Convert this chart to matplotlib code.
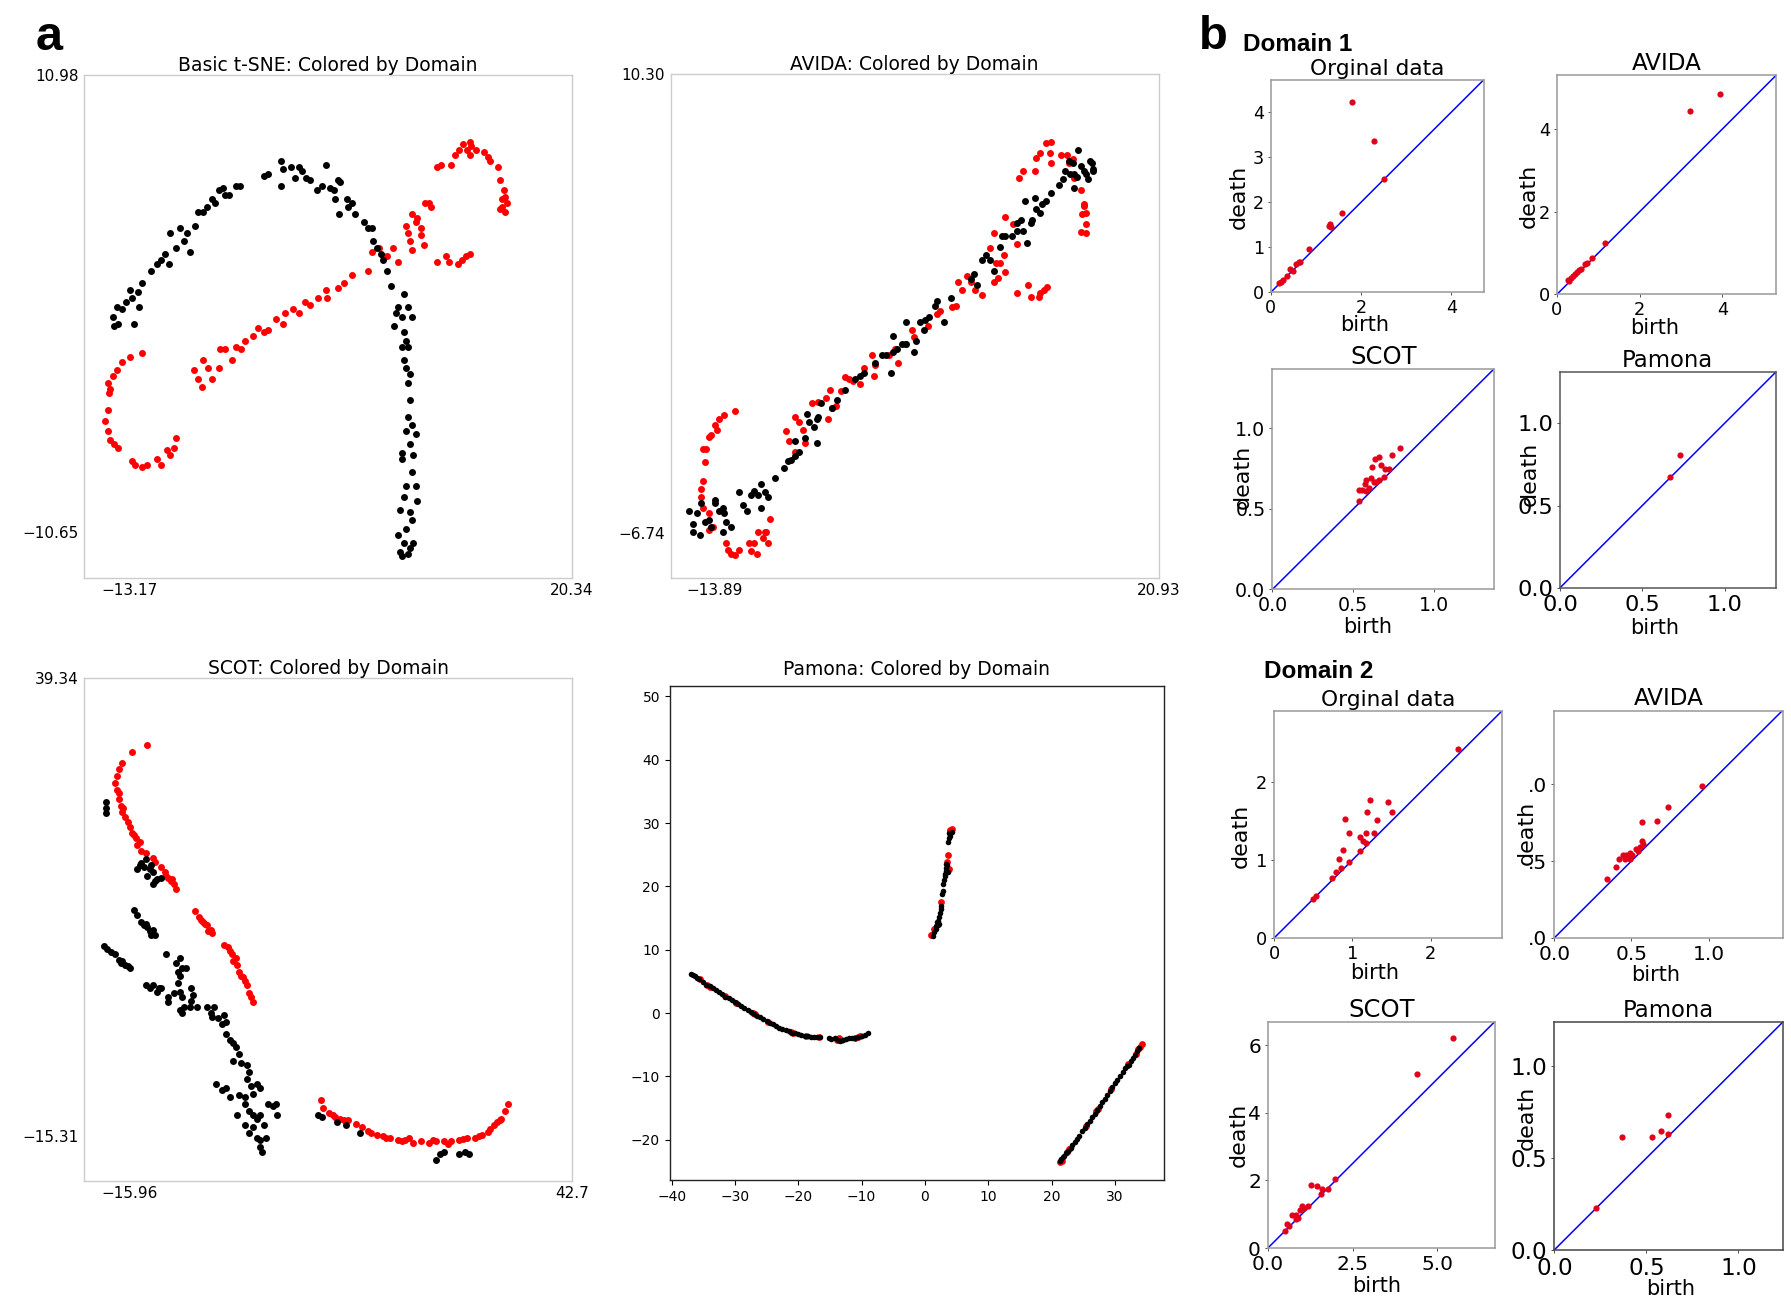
import matplotlib
import numpy as np

matplotlib.use("Agg")
import matplotlib.pyplot as plt


FIG_W, FIG_H = 1791, 1310
MINUS = "\u2212"

# ---- panel a: embeddings, (x, y) per point ----
TSNE_BLACK = np.array([
    (-14.4, -0.5), (-14.3, -0.9), (-14.0, -0.8), (-14.1, 0.0), (-13.7, -0.1), (-13.4, 0.2),
    (-13.0, 0.4), (-12.8, -0.8), (-13.1, 0.8), (-12.5, 0.7), (-12.2, 1.1), (-12.4, 0.0),
    (-11.5, 1.7), (-11.1, 2.0), (-10.8, 2.2), (-10.5, 2.5), (-10.2, 2.0), (-10.1, 3.5),
    (-9.6, 2.8), (-9.3, 3.7), (-9.0, 3.1), (-8.8, 3.5), (-8.6, 2.6), (-8.2, 3.8),
    (-8.0, 4.5), (-7.6, 4.5), (-7.3, 4.7), (-6.9, 5.1), (-6.7, 4.9), (-6.4, 5.5),
    (-6.1, 5.6), (-5.9, 5.3), (-5.6, 5.3), (-5.1, 5.7), (-4.8, 5.7),
    (-3.0, 6.2), (-2.7, 6.3), (-1.7, 6.9), (-1.5, 6.5), (-1.7, 5.7), (-0.9, 6.6),
    (-0.6, 6.1), (-0.3, 6.6), (-0.1, 6.4), (0.2, 6.1), (0.5, 6.0), (1.0, 5.5),
    (1.4, 5.7), (1.7, 6.7), (2.0, 5.6), (2.3, 5.5), (2.6, 6.0), (2.4, 5.1),
    (2.8, 5.9), (2.7, 4.4), (3.3, 5.1), (3.4, 4.7), (3.7, 4.9), (3.9, 4.4),
    (4.6, 4.0), (4.9, 3.7), (5.2, 3.7), (5.3, 3.1), (5.6, 2.8), (5.9, 2.5),
    (6.0, 2.2), (6.3, 1.7), (6.6, 1.0),
    (7.6, 0.6), (7.2, 0.0), (7.0, -0.3), (7.5, -0.5), (7.9, 0.0), (8.2, -0.5),
    (6.9, -0.9), (7.6, -1.2), (7.8, -1.6), (7.5, -1.9), (7.9, -1.9), (7.6, -2.5),
    (7.8, -2.9), (8.1, -3.2), (7.9, -3.6), (8.1, -4.4), (7.9, -5.2), (8.2, -5.6),
    (7.8, -5.9), (8.5, -6.0), (8.1, -6.5), (7.5, -6.9), (8.3, -7.0), (7.5, -7.2),
    (8.2, -7.8), (7.8, -8.5), (8.5, -8.5), (7.6, -9.0), (8.6, -9.2), (7.3, -9.6),
    (8.1, -9.7), (8.2, -10.1), (7.8, -10.5), (7.2, -10.8), (7.6, -11.2), (8.3, -11.2),
    (7.3, -11.6), (7.9, -11.7), (7.5, -11.8), (8.1, -11.4),
])
TSNE_RED = np.array([
    (-12.2, -2.2), (-13.1, -2.4), (-13.7, -2.6), (-14.1, -3.0), (-14.4, -3.3), (-14.8, -3.6),
    (-14.6, -3.9), (-14.7, -4.1), (-14.8, -4.9), (-15.0, -5.4), (-14.8, -5.9), (-14.6, -6.3),
    (-14.3, -6.5), (-14.0, -6.7), (-13.0, -7.3), (-12.7, -7.5), (-12.2, -7.6), (-11.8, -7.5),
    (-11.1, -7.2), (-10.8, -7.5), (-10.3, -6.8), (-10.1, -7.0), (-9.6, -6.2), (-9.8, -6.7),
    (-8.3, -3.0), (-8.0, -3.4), (-7.7, -3.8), (-7.6, -2.5), (-7.2, -2.9), (-6.9, -3.4),
    (-6.4, -2.9), (-6.3, -2.0), (-5.9, -2.0), (-5.4, -2.5), (-5.1, -1.9), (-4.7, -2.0),
    (-4.4, -1.6), (-3.8, -1.4), (-3.4, -1.0), (-3.0, -1.2), (-2.7, -1.1), (-2.1, -0.6),
    (-1.5, -0.8), (-1.4, -0.3), (-0.8, -0.1), (-0.3, -0.3), (0.1, 0.2), (0.5, 0.1),
    (1.1, 0.4), (1.7, 0.8), (1.8, 0.4), (2.6, 0.9), (3.1, 1.1), (3.7, 1.5),
    (4.9, 1.7), (5.2, 2.6), (5.7, 2.8), (6.3, 2.4), (6.8, 2.8), (7.2, 2.1), (6.0, 2.4),
    (7.8, 3.8), (7.9, 3.5), (8.1, 3.1), (8.2, 4.4), (8.5, 4.0), (8.6, 4.2),
    (8.9, 3.7), (9.1, 2.9), (9.2, 4.9), (9.5, 4.9), (9.7, 4.7), (8.2, 2.7), (8.9, 3.4),
    (10.1, 2.1), (10.8, 2.4), (11.0, 2.1), (11.7, 2.0), (12.0, 2.2), (12.3, 2.4), (12.6, 2.5),
    (10.1, 6.6), (10.4, 6.7), (11.2, 6.7), (11.5, 7.2), (11.8, 7.4), (12.1, 7.7),
    (12.6, 7.8), (12.7, 7.6), (12.4, 7.4), (12.6, 7.2), (13.1, 7.4), (13.7, 7.3),
    (14.0, 7.1), (14.1, 6.9), (14.7, 6.6), (14.9, 6.0), (15.2, 5.5), (15.3, 5.2),
    (15.0, 5.1), (15.4, 4.9), (14.9, 4.6), (15.3, 4.5), (15.0, 4.7),
])

AVIDA_BLACK = np.array([
    (-15.9, -5.9), (-15.6, -6.4), (-15.6, -6.7), (-15.1, -6.8), (-15.3, -6.0), (-15.0, -5.6),
    (-14.7, -6.3), (-14.4, -6.25), (-14.2, -6.5), (-13.9, -5.6), (-13.6, -5.9), (-13.3, -5.8),
    (-13.2, -6.0), (-13.3, -6.7), (-13.0, -6.3), (-12.6, -6.5), (-13.9, -5.5), (-12.0, -5.2),
    (-11.7, -5.7), (-11.4, -5.9), (-11.1, -5.3), (-10.8, -5.15), (-10.5, -5.3), (-10.3, -4.9),
    (-10.0, -5.2), (-9.7, -5.4), (-9.2, -4.7), (-10.3, -5.8), (-8.5, -4.3), (-8.2, -4.05),
    (-7.9, -4.0), (-7.6, -3.85), (-7.3, -3.7), (-7.6, -3.3), (-6.8, -3.2), (-6.7, -2.3),
    (-6.1, -2.8), (-5.9, -2.5), (-5.8, -2.4), (-5.9, -3.4), (-6.5, -2.6), (-5.6, -1.9),
    (-4.7, -2.1), (-4.3, -1.8), (-3.7, -1.4), (-2.9, -1.0), (-2.5, -0.9), (-2.2, -0.8),
    (-1.3, -0.4), (-0.8, -0.1), (-0.5, -0.1), (-0.1, -0.8), (0.1, 0.0), (0.1, 0.6),
    (0.4, 0.1), (0.8, 0.3), (1.1, 0.3), (1.7, 0.0), (1.1, 1.1), (1.9, 0.4),
    (2.2, 1.1), (2.5, 0.8), (2.6, 1.2), (2.9, 1.3), (3.4, 1.7), (3.5, 1.9),
    (4.1, 1.1), (4.6, 2.0), (6.2, 2.7), (6.4, 2.9), (6.7, 2.5), (7.1, 3.4),
    (7.4, 3.6), (7.7, 3.4), (8.0, 3.0), (8.5, 3.9), (8.6, 4.3), (8.9, 4.3),
    (9.4, 4.3), (9.8, 4.8), (9.8, 4.5), (10.1, 4.9), (10.3, 4.5), (10.6, 4.05),
    (10.9, 4.8), (11.0, 4.9), (10.4, 5.6), (11.2, 5.7), (11.3, 5.3), (11.6, 5.15),
    (11.8, 5.5), (12.1, 5.6), (12.5, 5.9), (13.1, 6.2), (13.4, 6.4), (13.6, 6.7),
    (13.9, 7.1), (14.2, 7.0), (14.6, 7.5), (14.3, 6.6), (14.8, 6.9), (15.2, 6.6),
    (15.5, 7.1), (15.8, 6.8), (15.4, 6.4), (14.5, 6.5), (14.3, 6.1), (15.1, 6.7),
    (14.0, 6.6), (15.7, 7.0), (15.8, 6.7),
])
AVIDA_RED = np.array([
    (-12.3, -2.2), (-13.2, -2.35), (-13.6, -2.5), (-13.9, -2.7), (-13.75, -2.9), (-14.2, -3.1),
    (-14.4, -3.15), (-14.6, -3.6), (-14.8, -3.6), (-14.7, -4.1), (-14.8, -4.8), (-15.0, -5.1),
    (-15.0, -5.4), (-14.8, -5.8), (-14.4, -6.0), (-14.05, -6.5), (-14.4, -6.6),
    (-13.0, -7.1), (-12.85, -7.35), (-12.6, -7.5), (-12.3, -7.55), (-12.0, -7.35), (-11.2, -7.1),
    (-11.1, -7.4), (-10.6, -7.5), (-10.8, -7.1), (-10.5, -6.7), (-10.15, -6.9), (-9.85, -6.7),
    (-9.7, -7.1), (-9.55, -6.2), (-10.0, -6.7),
    (-8.35, -2.95), (-8.05, -3.3), (-7.6, -2.4), (-7.6, -3.7), (-7.0, -2.9), (-7.3, -2.6),
    (-6.8, -3.4), (-6.25, -1.9), (-5.8, -1.85), (-5.2, -1.7), (-4.9, -1.4), (-5.05, -2.5),
    (-4.7, -2.1), (-4.4, -2.0), (-4.0, -1.45), (-3.7, -0.95), (-3.4, -1.0), (-3.1, -1.1),
    (-2.5, -1.2), (-2.2, -0.6), (-1.6, -0.1), (-1.4, -0.9), (-1.3, -0.5), (-0.25, -0.1),
    (0.2, 0.1), (0.5, -0.4), (1.0, 0.3), (1.6, 0.8), (1.7, 0.55), (2.8, 0.95),
    (3.5, 1.4), (3.8, 1.5), (4.7, 1.65), (5.0, 1.7), (5.2, 2.6), (5.5, 2.3),
    (5.9, 2.8), (6.2, 2.6), (6.5, 2.3), (7.1, 2.1), (7.7, 3.85), (8.0, 4.4),
    (8.2, 3.3), (8.5, 3.3), (8.8, 3.6), (8.9, 2.95), (8.0, 2.6), (8.3, 2.75),
    (8.9, 5.0), (9.5, 4.75), (9.8, 4.0),
    (9.8, 2.2), (10.7, 2.5), (10.9, 2.05), (11.5, 2.05), (11.6, 2.2), (11.9, 2.3), (12.2, 2.4),
    (10.0, 6.45), (10.3, 6.7), (11.2, 6.7), (11.3, 7.2), (11.6, 7.4), (12.1, 7.75),
    (12.4, 7.4), (12.5, 7.8), (12.5, 7.0), (13.3, 7.3), (13.7, 7.3), (13.9, 7.0),
    (14.2, 7.15), (14.8, 6.0), (15.1, 5.4), (15.2, 5.15), (14.9, 5.1), (15.2, 4.75),
    (14.8, 4.45), (15.2, 4.4), (15.1, 5.5), (14.3, 6.45),
])

SCOT_BLACK = np.array([
    (-19.1, 24.5), (-19.1, 23.8), (-19.1, 23.2),
    (-14.9, 16.6), (-14.4, 17.2), (-13.8, 17.7), (-14.1, 16.8), (-13.3, 16.6), (-13.6, 15.7),
    (-12.8, 16.2), (-12.6, 15.1), (-12.3, 15.3), (-11.8, 15.5), (-13.1, 17.0), (-14.6, 17.0),
    (-12.8, 14.7),
    (-15.4, 11.7), (-14.9, 11.0), (-14.4, 10.2), (-14.1, 9.8), (-13.6, 9.6), (-13.3, 9.1),
    (-13.1, 8.7), (-12.6, 8.7), (-13.8, 10.0), (-12.8, 9.3),
    (-19.3, 7.3), (-18.9, 7.0), (-18.4, 6.6), (-17.9, 6.4), (-17.4, 5.7), (-16.9, 5.5),
    (-16.6, 5.1), (-16.1, 4.9), (-15.9, 4.7), (-17.1, 5.3),
    (-11.1, 6.4), (-9.8, 5.3), (-9.3, 5.9), (-9.5, 4.2), (-9.0, 4.7), (-8.5, 4.7),
    (-9.3, 3.8), (-9.5, 2.9), (-9.3, 1.9), (-9.0, 1.2), (-10.8, 1.2), (-10.8, 0.6),
    (-13.8, 2.7), (-13.3, 2.3), (-12.8, 2.7), (-12.3, 1.9), (-11.8, 2.3), (-7.8, 2.3),
    (-7.5, 1.5), (-7.8, 0.8), (-8.8, 0.0), (-9.0, -0.7), (-9.3, -0.3), (-8.0, 0.0),
    (-7.0, 0.0), (-5.7, 0.0), (-4.7, 0.0), (-5.2, -0.7), (-5.0, -1.1), (-4.2, -1.3),
    (-3.7, -2.0), (-3.2, -1.7), (-3.4, -0.9), (-10.0, 1.7), (-12.1, 2.3),
    (-3.2, -3.2), (-2.7, -3.9), (-2.2, -4.3), (-1.9, -4.7), (-1.4, -5.6), (-2.2, -6.4),
    (-1.2, -6.7), (-0.4, -6.9), (-0.15, -7.7), (-0.4, -8.6), (0.1, -9.4), (0.9, -9.2),
    (1.4, -9.6), (0.35, -10.3), (-0.7, -10.7), (-1.4, -10.5), (-2.7, -10.7), (-4.5, -9.2),
    (-3.7, -9.9), (-3.2, -9.6), (-1.7, -12.8), (-0.7, -11.6), (-0.15, -12.4), (0.35, -12.8),
    (0.9, -13.3), (1.4, -12.8), (-0.7, -14.1), (0.35, -14.3), (-0.15, -15.0), (0.9, -15.6),
    (1.4, -15.8), (2.1, -15.6), (1.4, -16.7), (1.6, -17.3), (2.4, -11.6), (3.1, -11.8),
    (3.65, -12.8), (3.4, -11.6), (1.9, -14.1),
    (9.0, -12.8), (9.5, -13.1), (11.5, -13.7), (12.8, -14.1), (14.6, -15.0),
    (24.7, -18.2), (25.2, -17.5), (25.7, -17.3), (27.7, -17.5), (28.5, -17.3), (29.0, -17.5),
])
SCOT_RED = np.array([
    (-13.7, 31.4), (-15.6, 30.5), (-16.9, 29.2), (-17.4, 28.5), (-17.6, 27.7), (-17.9, 26.8),
    (-17.6, 26.0), (-17.4, 24.9), (-17.1, 24.1), (-16.9, 23.4), (-16.6, 22.8), (-15.9, 21.5),
    (-15.6, 20.9), (-15.1, 20.2), (-14.9, 19.4), (-14.4, 18.7), (-13.8, 18.5), (-12.8, 17.9),
    (-12.6, 17.4), (-11.8, 16.8), (-11.3, 16.2), (-10.8, 15.5), (-10.5, 15.1), (-10.0, 14.7),
    (-9.8, 14.2), (-17.3, 25.6), (-16.8, 23.8), (-16.1, 22.1), (-15.4, 20.6), (-14.6, 19.8),
    (-11.1, 15.7), (-10.3, 15.3),
    (-7.3, 11.5), (-6.7, 10.8), (-6.2, 10.2), (-5.7, 9.8), (-5.5, 9.1), (-5.0, 8.9),
    (-6.5, 10.4), (-6.0, 10.0), (-5.2, 9.3),
    (-3.4, 7.4), (-2.9, 7.2), (-2.4, 6.4), (-2.2, 5.5), (-1.7, 5.1), (-1.4, 4.2),
    (-1.2, 3.8), (-0.7, 3.2), (-0.4, 2.7), (-0.15, 1.7), (0.35, 0.6), (-2.7, 6.8),
    (-1.9, 5.9), (-0.9, 3.6), (0.1, 1.2),
    (9.4, -11.1), (9.7, -12.0), (10.5, -12.6), (11.3, -13.1), (12.0, -13.3), (13.0, -13.5),
    (14.0, -13.9), (15.6, -14.8), (16.8, -15.2), (17.6, -15.4), (18.6, -15.6), (19.6, -15.8),
    (20.6, -15.8), (21.6, -16.2), (22.7, -16.0), (23.7, -16.2), (24.7, -16.0), (25.7, -16.0),
    (26.7, -16.0), (27.7, -15.8), (28.8, -15.6), (29.8, -15.6), (30.8, -15.2), (31.5, -14.9),
    (32.3, -14.1), (32.8, -13.7), (33.3, -13.3), (33.8, -12.4), (34.2, -11.6),
    (11.0, -12.8), (12.5, -13.5), (14.8, -14.3), (16.1, -15.0), (18.1, -15.6), (20.1, -16.0),
    (21.1, -15.6), (24.2, -15.8), (26.2, -16.3), (28.2, -15.7), (30.3, -15.4), (31.8, -14.5),
    (33.1, -13.5),
])

PAMONA_BLACK = np.array([
    (-37.0, 6.2), (-36.6, 6.0), (-36.3, 5.9), (-36.0, 5.6), (-35.6, 5.3), (-35.0, 4.9),
    (-34.5, 4.5), (-34.0, 4.2), (-33.5, 3.9), (-33.0, 3.6), (-32.5, 3.3), (-32.0, 3.0),
    (-31.5, 2.6), (-31.0, 2.3), (-30.5, 2.0), (-30.0, 1.7), (-29.5, 1.4), (-29.0, 1.1),
    (-28.5, 0.8), (-28.0, 0.5), (-27.5, 0.2), (-27.0, -0.1), (-26.5, -0.4), (-26.0, -0.7),
    (-25.5, -1.0), (-25.0, -1.3), (-24.5, -1.5), (-24.0, -1.8), (-23.5, -2.0), (-23.0, -2.3),
    (-22.5, -2.5), (-22.0, -2.7), (-21.5, -2.9), (-21.0, -3.1), (-20.5, -3.2), (-20.0, -3.3),
    (-19.5, -3.45), (-19.0, -3.6), (-18.5, -3.7), (-18.0, -3.75), (-17.5, -3.8), (-17.0, -3.85),
    (-16.6, -3.85), (-15.2, -4.0), (-14.8, -4.1), (-14.2, -4.0), (-13.8, -4.3), (-13.4, -4.4),
    (-13.0, -4.2), (-12.5, -4.1), (-12.0, -4.0), (-11.5, -4.0), (-11.0, -3.9), (-10.5, -3.8),
    (-10.0, -3.6), (-9.5, -3.4), (-9.0, -3.2),
    (1.2, 12.1), (1.5, 12.8), (1.7, 13.3), (1.8, 13.7), (2.0, 13.9), (2.2, 14.0),
    (1.9, 14.3), (2.1, 14.6), (2.3, 15.2), (2.4, 15.8), (2.5, 16.4), (2.5, 16.9),
    (2.7, 18.8), (2.8, 19.3), (2.9, 20.4), (3.0, 21.0), (3.1, 21.6), (3.2, 22.0),
    (3.3, 22.5), (3.4, 22.9), (3.5, 23.3), (3.3, 23.6), (3.6, 22.3), (3.7, 27.0),
    (3.8, 27.6), (3.9, 28.0), (4.0, 28.3), (4.2, 28.6), (3.8, 28.4),
    (21.3, -23.4), (21.5, -23.0), (21.8, -22.8), (22.0, -22.6), (22.3, -22.1), (22.6, -21.8),
    (23.0, -21.3), (23.3, -20.8), (23.7, -20.3), (24.0, -19.9), (24.4, -19.4), (24.8, -18.7),
    (25.2, -18.1), (25.6, -17.6), (26.0, -17.0), (26.4, -16.4), (26.8, -15.9), (27.2, -15.3),
    (27.6, -14.7), (28.0, -14.1), (28.4, -13.5), (28.8, -12.9), (29.2, -12.3), (29.6, -11.7),
    (30.0, -11.1), (30.4, -10.5), (30.8, -9.9), (31.2, -9.3), (31.6, -8.7), (31.9, -8.4),
    (32.2, -8.2), (32.5, -7.6), (32.8, -7.1), (33.1, -6.6), (33.5, -6.0), (33.8, -5.6),
])
PAMONA_RED = np.array([
    (-34.4, 4.4), (-33.9, 4.1), (-31.6, 2.7), (-27.2, 0.0), (-26.9, -0.2), (-21.2, -3.0),
    (-20.8, -3.1), (-13.6, -3.9), (-13.2, -4.3), (-13.9, -4.2), (-10.6, -3.8), (-10.2, -3.7),
    (-11.0, -3.9), (-35.5, 5.3), (-29.8, 1.6), (-24.8, -1.4), (-18.8, -3.6), (-16.8, -3.8),
    (1.0, 12.3), (1.4, 13.2), (3.6, 24.9), (3.5, 23.8), (3.8, 22.8), (3.9, 28.9),
    (4.2, 29.0), (4.0, 28.8), (2.6, 17.5),
    (21.3, -23.6), (21.6, -23.4), (22.4, -22.0), (25.5, -17.8), (27.3, -15.2), (27.0, -15.5),
    (29.4, -12.0), (33.3, -6.5), (33.7, -5.7), (34.0, -5.3), (34.2, -4.9), (32.0, -8.0),
    (22.8, -21.4),
])

# ---- panel b: persistence diagrams, (birth, death) ----
D1_ORIGINAL = np.array([
    (1.79, 4.23), (2.29, 3.36), (2.51, 2.51), (1.57, 1.75), (1.29, 1.47), (1.34, 1.44),
    (1.31, 1.52), (0.85, 0.97), (0.56, 0.63), (0.62, 0.67), (0.48, 0.48), (0.35, 0.37),
    (0.27, 0.28), (0.18, 0.20), (0.23, 0.23), (0.43, 0.51), (0.64, 0.66),
])
D1_AVIDA = np.array([
    (3.21, 4.45), (3.95, 4.84), (1.15, 1.23), (0.85, 0.87), (0.67, 0.74), (0.72, 0.76),
    (0.58, 0.62), (0.49, 0.55), (0.44, 0.50), (0.35, 0.40), (0.30, 0.33), (0.39, 0.45),
    (0.53, 0.58), (0.26, 0.34),
])
D1_SCOT = np.array([
    (0.79, 0.88), (0.737, 0.836), (0.633, 0.81), (0.66, 0.82), (0.673, 0.77), (0.614, 0.758),
    (0.696, 0.745), (0.72, 0.75), (0.692, 0.70), (0.66, 0.68), (0.638, 0.668), (0.61, 0.694),
    (0.58, 0.68), (0.572, 0.655), (0.596, 0.629), (0.556, 0.616), (0.533, 0.616), (0.533, 0.55),
    (0.58, 0.61), (0.626, 0.668),
])
D1_PAMONA = np.array([(0.667, 0.673), (0.729, 0.806)])
D2_ORIGINAL = np.array([
    (2.35, 2.42), (1.23, 1.77), (1.46, 1.75), (0.91, 1.53), (1.19, 1.61), (1.51, 1.62),
    (0.95, 1.35), (1.31, 1.51), (1.17, 1.35), (1.10, 1.29), (1.14, 1.24), (1.18, 1.22),
    (1.28, 1.34), (0.88, 1.13), (0.83, 1.01), (0.95, 0.98), (1.10, 1.11), (0.86, 0.90),
    (0.79, 0.84), (0.74, 0.77), (0.50, 0.50), (0.53, 0.54),
])
D2_AVIDA = np.array([
    (0.958, 0.99), (0.737, 0.854), (0.57, 0.754), (0.663, 0.762), (0.57, 0.63), (0.577, 0.608),
    (0.54, 0.566), (0.49, 0.552), (0.467, 0.538), (0.442, 0.538), (0.418, 0.51), (0.455, 0.51),
    (0.49, 0.51), (0.48, 0.524), (0.504, 0.538), (0.40, 0.462), (0.344, 0.384), (0.553, 0.594),
    (0.528, 0.58),
])
D2_SCOT = np.array([
    (5.48, 6.20), (4.41, 5.15), (1.98, 2.03), (1.28, 1.86), (1.44, 1.83), (1.78, 1.76),
    (1.61, 1.76), (1.56, 1.59), (1.17, 1.24), (1.02, 1.24), (0.94, 1.11), (0.83, 0.99),
    (0.72, 0.99), (0.89, 0.88), (0.83, 0.86), (0.61, 0.64), (0.56, 0.71), (0.50, 0.51),
    (1.06, 1.17),
])
D2_PAMONA = np.array([
    (0.225, 0.226), (0.369, 0.614), (0.533, 0.614), (0.578, 0.649), (0.619, 0.737), (0.619, 0.633),
])


def add_px_axes(fig, left, right, top, bottom):
    # оси по пиксельным координатам картинки
    return fig.add_axes([
        left / FIG_W,
        1 - bottom / FIG_H,
        (right - left) / FIG_W,
        (bottom - top) / FIG_H,
    ])


def fmt(value, digits=2):
    return f"{value:.{digits}f}".replace("-", MINUS)


def draw_embedding(ax, title, black, red, xlim, ylim, xticks, yticks, xlabels=None):
    ax.scatter(red[:, 0], red[:, 1], s=25, c="red", linewidths=0)
    ax.scatter(black[:, 0], black[:, 1], s=25, c="black", linewidths=0)
    ax.set_xlim(xlim)
    ax.set_ylim(ylim)
    ax.set_xticks(xticks, xlabels or [fmt(v) for v in xticks])
    ax.set_yticks(yticks, [fmt(v) for v in yticks])
    ax.tick_params(length=0, labelsize=11, pad=4)
    for spine in ax.spines.values():
        spine.set_color("#cccccc")
        spine.set_linewidth(1.0)
    ax.set_title(title, fontsize=13.5, pad=2)


def draw_diagram(ax, title, points, limit, xticks, xlabels, yticks, ylabels,
                 title_size, tick_size, label_pos, frame="#999999"):
    ax.plot([0, limit], [0, limit], color="blue", linewidth=1.1)
    ax.scatter(points[:, 0], points[:, 1], s=20, c="#e3001b", linewidths=0, zorder=3)
    ax.set_xlim(0, limit)
    ax.set_ylim(0, limit)
    ax.set_xticks(xticks, xlabels)
    ax.set_yticks(yticks, ylabels)
    ax.tick_params(length=2.5, width=0.6, colors="#333333", labelcolor="black",
                   labelsize=tick_size, pad=2.5)
    for spine in ax.spines.values():
        spine.set_color(frame)
        spine.set_linewidth(1.1)
    ax.set_title(title, fontsize=title_size, pad=3)
    ax.set_xlabel("birth", fontsize=15)
    ax.set_ylabel("death", fontsize=16)
    ylabel_x, ylabel_y, xlabel_x, xlabel_y = label_pos
    ax.xaxis.set_label_coords(xlabel_x, xlabel_y)
    ax.yaxis.set_label_coords(ylabel_x, ylabel_y)


fig = plt.figure(figsize=(FIG_W / 100, FIG_H / 100), dpi=100)

# ---- panel a ----
ax = add_px_axes(fig, 84.2, 572.1, 74.6, 577.9)
draw_embedding(ax, "Basic t-SNE: Colored by Domain", TSNE_BLACK, TSNE_RED,
               (-16.58, 20.34), (-12.83, 10.98), [-13.17, 20.34], [-10.65, 10.98])

ax = add_px_axes(fig, 670.8, 1158.7, 74.4, 577.6)
draw_embedding(ax, "AVIDA: Colored by Domain", AVIDA_BLACK, AVIDA_RED,
               (-17.36, 20.93), (-8.38, 10.30), [-13.89, 20.93], [-6.74, 10.30])

ax = add_px_axes(fig, 84.2, 572.1, 678.2, 1180.9)
draw_embedding(ax, "SCOT: Colored by Domain", SCOT_BLACK, SCOT_RED,
               (-21.96, 42.7), (-20.73, 39.34), [-15.96, 42.7], [-15.31, 39.34],
               xlabels=[fmt(-15.96), "42.7"])

ax = add_px_axes(fig, 669.7, 1163.7, 686.3, 1180.2)
ax.scatter(PAMONA_RED[:, 0], PAMONA_RED[:, 1], s=24, c="red", linewidths=0)
ax.scatter(PAMONA_BLACK[:, 0], PAMONA_BLACK[:, 1], s=16, c="black", linewidths=0)
ax.set_xlim(-40.3, 37.7)
ax.set_ylim(-26.4, 51.6)
ax.set_xticks(np.arange(-40, 31, 10))
ax.set_yticks(np.arange(-20, 51, 10))
ax.tick_params(labelsize=10, length=3.5, width=0.8)
for spine in ax.spines.values():
    spine.set_color("#222222")
    spine.set_linewidth(1.0)
ax.set_title("Pamona: Colored by Domain", fontsize=13.5, pad=8)

# ---- panel b ----
ax = add_px_axes(fig, 1270.9, 1483.9, 79.6, 292.2)
draw_diagram(ax, "Orginal data", D1_ORIGINAL, 4.72,
             [0, 2, 4], ["0", "2", "4"], [0, 1, 2, 3, 4], ["0", "1", "2", "3", "4"],
             15.6, 12.6, (-0.106, 0.45, 0.44, -0.105))

ax = add_px_axes(fig, 1557, 1776, 75.4, 294.3)
draw_diagram(ax, "AVIDA", D1_AVIDA, 5.3,
             [0, 2, 4], ["0", "2", "4"], [0, 2, 4], ["0", "2", "4"],
             16.6, 12.8, (-0.083, 0.45, 0.445, -0.108))

ax = add_px_axes(fig, 1272.4, 1494, 368.9, 589.4)
draw_diagram(ax, "SCOT", D1_SCOT, 1.37,
             [0, 0.5, 1.0], ["0.0", "0.5", "1.0"], [0, 0.5, 1.0], ["0.0", "0.5", "1.0"],
             17.5, 13.7, (-0.087, 0.51, 0.43, -0.124))

ax = add_px_axes(fig, 1560, 1775.7, 372.2, 587.8)
draw_diagram(ax, "Pamona", D1_PAMONA, 1.31,
             [0, 0.5, 1.0], ["0.0", "0.5", "1.0"], [0, 0.5, 1.0], ["0.0", "0.5", "1.0"],
             16.4, 16.2, (-0.094, 0.53, 0.44, -0.138), frame="#555555")

ax = add_px_axes(fig, 1274.3, 1502.4, 710.5, 937.8)
draw_diagram(ax, "Orginal data", D2_ORIGINAL, 2.92,
             [0, 1, 2], ["0", "1", "2"], [0, 1, 2], ["0", "1", "2"],
             15.6, 12.8, (-0.104, 0.45, 0.44, -0.113))

ax = add_px_axes(fig, 1554.4, 1782.5, 710.5, 937.8)
draw_diagram(ax, "AVIDA", D2_AVIDA, 1.48,
             [0, 0.5, 1.0], ["0.0", "0.5", "1.0"], [0, 0.5, 1.0], [".0", ".5", ".0"],
             16.6, 14.5, (-0.079, 0.46, 0.445, -0.119))

ax = add_px_axes(fig, 1267.9, 1494.8, 1021.6, 1248)
draw_diagram(ax, "SCOT", D2_SCOT, 6.7,
             [0, 2.5, 5.0], ["0.0", "2.5", "5.0"], [0, 2, 4, 6], ["0", "2", "4", "6"],
             17.5, 14.5, (-0.085, 0.5, 0.48, -0.125))

ax = add_px_axes(fig, 1554.4, 1782.5, 1022.4, 1249.8)
draw_diagram(ax, "Pamona", D2_PAMONA, 1.24,
             [0, 0.5, 1.0], ["0.0", "0.5", "1.0"], [0, 0.5, 1.0], ["0.0", "0.5", "1.0"],
             16.4, 16.7, (-0.079, 0.58, 0.51, -0.13), frame="#444444")

# ---- labels ----
fig.text(36 / FIG_W, 1 - 49.8 / FIG_H, "a", fontsize=35, fontweight="bold",
         family="Liberation Sans", va="baseline")
fig.text(1199 / FIG_W, 1 - 48.9 / FIG_H, "b", fontsize=34, fontweight="bold",
         family="Liberation Sans", va="baseline")
fig.text(1243 / FIG_W, 1 - 50.6 / FIG_H, "Domain 1", fontsize=17.5, fontweight="bold",
         family="Liberation Sans", va="baseline")
fig.text(1264 / FIG_W, 1 - 678.5 / FIG_H, "Domain 2", fontsize=17.5, fontweight="bold",
         family="Liberation Sans", va="baseline")

fig.savefig("out.png", dpi=100)
plt.close(fig)
